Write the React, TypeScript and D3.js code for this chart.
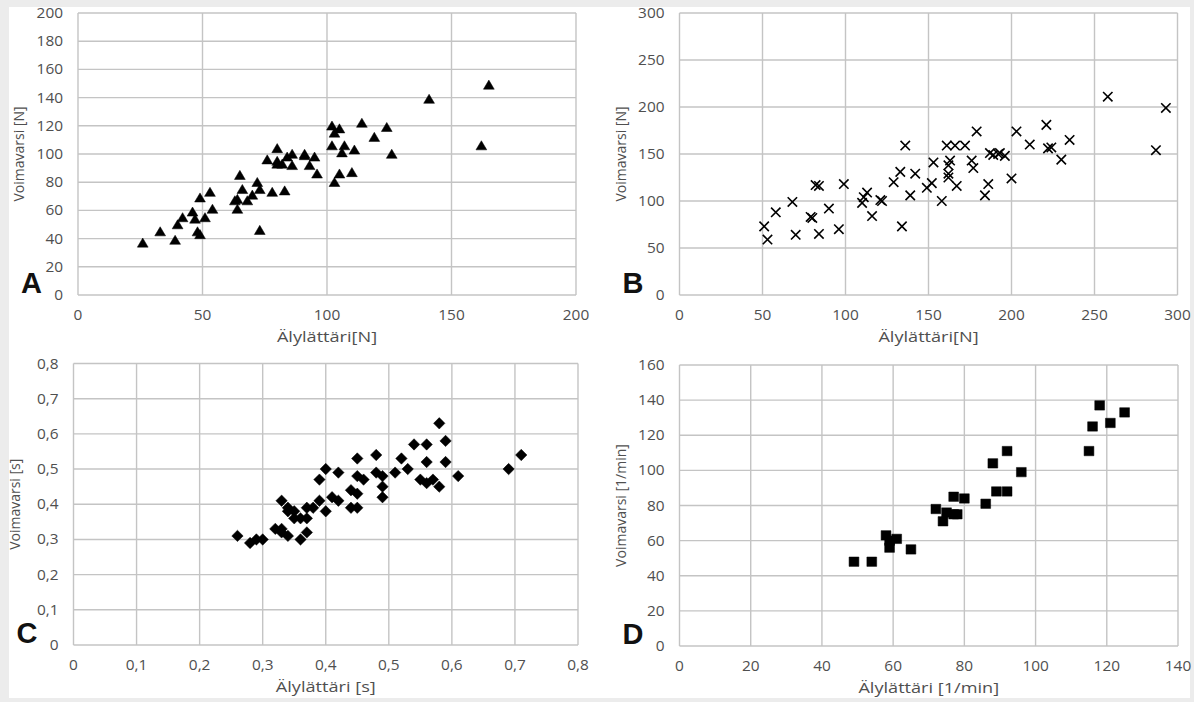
import React from "react";
import * as d3 from "d3";

// ---------- data ----------
const aX = [26,33,39,40,42,46,47,48,49,49,51,53,54,63,64,64,65,66,68,70,72,73,73,76,78,80,80,80,82,83,84,86,86,91,91,93,95,96,102,102,103,103,105,105,106,107,110,111,114,119,124,126,141,162,165];
const aY = [37,45,39,50,55,59,54,45,43,69,55,73,61,67,68,61,85,75,67,71,80,75,46,96,73,104,95,93,93,74,98,100,92,99,100,92,98,86,106,120,115,80,118,86,101,106,87,103,122,112,119,100,139,106,149];

const bX = [51,53,58,68,70,79,80,82,84,84,90,96,99,110,111,113,116,121,122,129,133,134,136,139,142,149,152,153,158,161,162,162,162,163,166,167,172,176,177,179,184,186,187,189,192,193,196,200,203,211,221,222,224,230,235,258,287,293];
const bY = [73,59,88,99,64,83,82,117,116,65,92,70,118,98,104,109,84,101,100,120,131,73,159,106,129,114,119,141,100,159,138,129,125,143,159,116,159,143,135,174,106,118,151,149,150,151,148,124,174,160,181,156,157,144,165,211,154,199];

const cX = [0.26,0.28,0.29,0.30,0.32,0.33,0.33,0.33,0.34,0.34,0.34,0.35,0.35,0.36,0.36,0.37,0.37,0.37,0.38,0.39,0.39,0.40,0.40,0.41,0.42,0.42,0.44,0.44,0.45,0.45,0.45,0.45,0.46,0.48,0.48,0.49,0.49,0.49,0.51,0.52,0.53,0.54,0.55,0.56,0.56,0.56,0.57,0.58,0.58,0.59,0.59,0.61,0.69,0.71];
const cY = [0.31,0.29,0.30,0.30,0.33,0.41,0.33,0.32,0.31,0.39,0.38,0.38,0.36,0.36,0.30,0.32,0.36,0.39,0.39,0.41,0.47,0.50,0.38,0.42,0.49,0.41,0.44,0.39,0.53,0.48,0.43,0.39,0.47,0.54,0.49,0.48,0.45,0.42,0.49,0.53,0.50,0.57,0.47,0.57,0.52,0.46,0.47,0.63,0.45,0.58,0.52,0.48,0.50,0.54];

const dX = [49,54,58,59,59,61,65,72,74,75,77,77,78,80,86,88,89,92,92,96,115,116,118,121,125];
const dY = [48,48,63,56,60,61,55,78,71,76,85,75,75,84,81,104,88,111,88,99,111,125,137,127,133];

// ---------- ticks ----------
const aXTicks = [0, 50, 100, 150, 200];
const aYTicks = [0, 20, 40, 60, 80, 100, 120, 140, 160, 180, 200];
const bXTicks = [0, 50, 100, 150, 200, 250, 300];
const bYTicks = [0, 50, 100, 150, 200, 250, 300];
const cTicks = [0, 0.1, 0.2, 0.3, 0.4, 0.5, 0.6, 0.7, 0.8];
const cTickLabels = ["0", "0,1", "0,2", "0,3", "0,4", "0,5", "0,6", "0,7", "0,8"];
const dXTicks = [0, 20, 40, 60, 80, 100, 120, 140];
const dYTicks = [0, 20, 40, 60, 80, 100, 120, 140, 160];

// ---------- style ----------
const FONT = "'Open Sans', 'Liberation Sans', sans-serif";
const TEXT = "#4f4f4f";
const GRID = "#c4c4c4";
const TICK_STRETCH = 1.1;
const TITLE_STRETCH = 1.25;

type Marker = "triangle" | "cross" | "diamond" | "square";

interface Panel {
  letter: string;
  xs: number[];
  ys: number[];
  xTicks: number[];
  yTicks: number[];
  xLabels?: string[];
  yLabels?: string[];
  marker: Marker;
  xTitle: string;
  yTitle: string;
  box: { x0: number; x1: number; y0: number; y1: number };
}

const panels: Panel[] = [
  { letter: "A", xs: aX, ys: aY, xTicks: aXTicks, yTicks: aYTicks, marker: "triangle",
    xTitle: "Älylättäri[N]", yTitle: "Voimavarsi [N]", box: { x0: 78, x1: 576, y0: 295, y1: 13 } },
  { letter: "B", xs: bX, ys: bY, xTicks: bXTicks, yTicks: bYTicks, marker: "cross",
    xTitle: "Älylättäri[N]", yTitle: "Voimavarsi [N]", box: { x0: 679.5, x1: 1177.5, y0: 295, y1: 13 } },
  { letter: "C", xs: cX, ys: cY, xTicks: cTicks, yTicks: cTicks, xLabels: cTickLabels, yLabels: cTickLabels, marker: "diamond",
    xTitle: "Älylättäri [s]", yTitle: "Voimavarsi [s]", box: { x0: 73.5, x1: 578, y0: 645, y1: 363.5 } },
  { letter: "D", xs: dX, ys: dY, xTicks: dXTicks, yTicks: dYTicks, marker: "square",
    xTitle: "Älylättäri [1/min]", yTitle: "Voimavarsi [1/min]", box: { x0: 679.5, x1: 1178, y0: 646, y1: 365 } },
];

function markerPath(m: Marker, x: number, y: number): string {
  switch (m) {
    case "triangle":
      return `M${x},${y - 4.8}L${x + 5.4},${y + 4.3}L${x - 5.4},${y + 4.3}Z`;
    case "cross":
      return `M${x - 4.7},${y - 4.7}L${x + 4.7},${y + 4.7}M${x + 4.7},${y - 4.7}L${x - 4.7},${y + 4.7}`;
    case "diamond":
      return `M${x},${y - 5.7}L${x + 5.7},${y}L${x},${y + 5.7}L${x - 5.7},${y}Z`;
    case "square":
      return `M${x - 4.9},${y - 4.7}h9.8v9.4h-9.8Z`;
  }
}

function ChartPanel({ p }: { p: Panel }) {
  const { box } = p;
  const xDom = d3.extent(p.xTicks) as [number, number];
  const yDom = d3.extent(p.yTicks) as [number, number];
  const x = d3.scaleLinear().domain(xDom).range([box.x0, box.x1]);
  const y = d3.scaleLinear().domain(yDom).range([box.y0, box.y1]);
  const xLab = (v: number, i: number) => (p.xLabels ? p.xLabels[i] : String(v));
  const yLab = (v: number, i: number) => (p.yLabels ? p.yLabels[i] : String(v));
  const cx = (box.x0 + box.x1) / 2;
  const cy = (box.y0 + box.y1) / 2;
  return (
    <g>
      {/* grid */}
      {p.yTicks.map((t) => (
        <line key={"h" + t} x1={box.x0} x2={box.x1} y1={y(t)} y2={y(t)} stroke={GRID} strokeWidth={1.4} />
      ))}
      {p.xTicks.map((t) => (
        <line key={"v" + t} x1={x(t)} x2={x(t)} y1={box.y0} y2={box.y1} stroke={GRID} strokeWidth={1.4} />
      ))}
      {/* y tick labels */}
      {p.yTicks.map((t, i) => (
        <text key={"yl" + t} transform={`translate(${box.x0 - 15},${y(t)}) scale(${TICK_STRETCH},1)`}
          dy="0.36em" textAnchor="end" fontFamily={FONT} fontSize={14} fill={TEXT}>
          {yLab(t, i)}
        </text>
      ))}
      {/* x tick labels */}
      {p.xTicks.map((t, i) => (
        <text key={"xl" + t} transform={`translate(${x(t)},${box.y0 + 25}) scale(${TICK_STRETCH},1)`}
          textAnchor="middle" fontFamily={FONT} fontSize={14} fill={TEXT}>
          {xLab(t, i)}
        </text>
      ))}
      {/* axis titles */}
      <text transform={`translate(${cx},${box.y0 + 47}) scale(${TITLE_STRETCH},1)`}
        textAnchor="middle" fontFamily={FONT} fontSize={14.5} fill={TEXT}>
        {p.xTitle}
      </text>
      <text transform={`translate(${box.x0 - 54},${cy}) rotate(-90)`}
        textAnchor="middle" fontFamily={FONT} fontSize={14} fill={TEXT}>
        {p.yTitle}
      </text>
      {/* panel letter */}
      <text x={box.x0 - 57} y={box.y0 - 2} fontFamily="'Liberation Sans', Arial, sans-serif"
        fontWeight="bold" fontSize={29} fill="#111">
        {p.letter}
      </text>
      {/* markers */}
      {p.xs.map((v, i) => (
        <path key={"m" + i} d={markerPath(p.marker, x(v), y(p.ys[i]))}
          fill={p.marker === "cross" ? "none" : "#000"}
          stroke="#000" strokeWidth={p.marker === "cross" ? 1.6 : 0.5} />
      ))}
    </g>
  );
}

export default function App() {
  return (
    <svg width={1194} height={702} viewBox="0 0 1194 702"
      style={{ position: "absolute", left: 0, top: 0, display: "block" }}>
      <rect x={0} y={0} width={1194} height={702} fill="#ececec" />
      <rect x={9} y={7} width={1181} height={691} fill="#ffffff" />
      {panels.map((p) => (
        <ChartPanel key={p.letter} p={p} />
      ))}
    </svg>
  );
}
